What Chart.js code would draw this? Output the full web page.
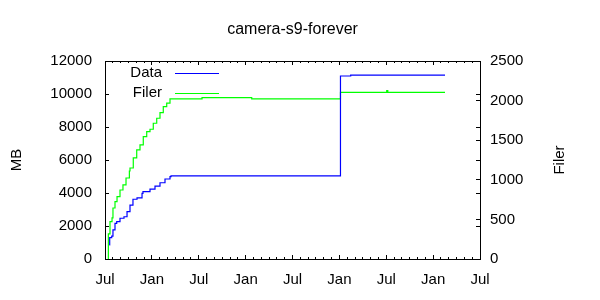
<!DOCTYPE html>
<html>
<head>
<meta charset="utf-8">
<script src="https://cdn.jsdelivr.net/npm/chart.js@4/dist/chart.umd.min.js"></script>
<style>
html, body { margin: 0; padding: 0; background: #fff; }
</style>
</head>
<body>
<canvas id="chart" width="600" height="300"></canvas>
<script>
// x values are months counted from the first Jul on the axis
var dataMonths = [0.55, 0.60, 0.86, 1.02, 1.28, 1.50, 1.92, 2.43, 2.82, 3.20,
    3.58, 4.10, 4.74, 4.86, 5.76, 6.40, 7.04, 7.68, 8.32, 8.45,
    30.14, 31.45, 43.52];
var dataMB = [850, 1300, 1390, 1760, 2160, 2260, 2470, 2560, 2870, 3270,
    3620, 3710, 3980, 4080, 4240, 4420, 4620, 4850, 4990, 5040,
    11090, 11150, 11150];

var filerMonths = [0.42, 0.43, 0.64, 0.90, 1.02, 1.28, 1.54, 1.92, 2.30, 2.69,
    3.12, 3.20, 3.62, 4.06, 4.48, 4.90, 5.34, 5.76, 6.18, 6.62,
    7.04, 7.46, 7.90, 8.32, 12.42, 18.78, 30.14, 36.06, 36.20, 43.52];
var filerCount = [0, 316, 471, 518, 644, 724, 787, 871, 935, 1023,
    1111, 1149, 1276, 1377, 1440, 1545, 1608, 1638, 1714, 1777,
    1848, 1924, 1967, 2021, 2037, 2021, 2105, 2126, 2105, 2105];

var xTickNames = ['Jul', 'Jan']; // every 6 months, starting with Jul
var xMax = 48;
var mbMax = 12000, mbStep = 2000;
var filerMax = 2500, filerStep = 500;

var FONT = '"Liberation Sans", Arial, Helvetica, sans-serif';
Chart.defaults.font.family = FONT;
Chart.defaults.font.size = 15;
Chart.defaults.color = '#000';

function toPoints(xs, ys) {
    return xs.map(function (x, i) { return {x: x, y: ys[i]}; });
}

function fixSize(prop, v) { // force axis box size
    return function (scale) { scale[prop] = v; };
}

// gnuplot style ticks: inward, no grid lines
function tickGrid(len) {
    return {drawOnChartArea: false, drawTicks: true, tickLength: -len,
        color: '#000', tickColor: '#000', lineWidth: 1};
}

// key in the upper left corner of the plot + rotated y2 title
var keyPlugin = {
    id: 'key',
    afterDatasetsDraw: function (chart) {
        var ctx = chart.ctx;
        var area = chart.chartArea;
        ctx.save();
        ctx.font = '15px ' + FONT;
        ctx.textAlign = 'right';
        ctx.textBaseline = 'middle';
        chart.data.datasets.forEach(function (ds, i) {
            var y = area.top + 12 + i * 20;
            ctx.fillStyle = '#000';
            ctx.fillText(ds.label, area.left + 57, y);
            var ly = Math.floor(y) + 0.5;
            ctx.strokeStyle = ds.borderColor;
            ctx.lineWidth = 1;
            ctx.beginPath();
            ctx.moveTo(area.left + 70, ly);
            ctx.lineTo(area.left + 114, ly);
            ctx.stroke();
        });

        var t = chart.options.scales.y2.title.text;
        ctx.translate(560, (area.top + area.bottom) / 2);
        ctx.rotate(-Math.PI / 2);
        ctx.textAlign = 'center';
        ctx.fillText(t, 0, 0);
        ctx.restore();
    }
};

var xRange = {type: 'linear', min: 0, max: xMax};

new Chart(document.getElementById('chart'), {
    type: 'line',
    data: {
        datasets: [
            {label: 'Data', data: toPoints(dataMonths, dataMB), xAxisID: 'x', yAxisID: 'y',
                borderColor: '#0000ff', borderWidth: 1.2, pointRadius: 0, stepped: 'before', fill: false},
            {label: 'Filer', data: toPoints(filerMonths, filerCount), xAxisID: 'x', yAxisID: 'y2',
                borderColor: '#00ff00', borderWidth: 1.2, pointRadius: 0, stepped: 'before', fill: false}
        ]
    },
    options: {
        responsive: false,
        animation: false,
        devicePixelRatio: 1,
        layout: {padding: 0},
        plugins: {
            legend: {display: false},
            tooltip: {enabled: false},
            title: {
                display: true,
                fullSize: false, // centred over the plot, like gnuplot
                text: 'camera-s9-forever',
                font: {size: 16, weight: 'normal'},
                color: '#000',
                padding: {top: 20.4, bottom: 21.4}
            }
        },
        scales: {
            x: Object.assign({}, xRange, {
                position: 'bottom', weight: 1,
                grid: tickGrid(4),
                border: {display: true, color: '#000', width: 1},
                ticks: {stepSize: 6, maxTicksLimit: 100, autoSkip: false, maxRotation: 0, padding: 16,
                    callback: function (v) { return xTickNames[(v / 6) % 2]; }},
                afterFit: fixSize('height', 41)
            }),
            xMinor: Object.assign({}, xRange, {
                position: 'bottom', weight: 0,
                grid: tickGrid(2), border: {display: false},
                ticks: {display: false, stepSize: 1, maxTicksLimit: 100},
                afterFit: fixSize('height', 0)
            }),
            xTop: Object.assign({}, xRange, {
                position: 'top', weight: 0,
                grid: tickGrid(4),
                border: {display: true, color: '#000', width: 1},
                ticks: {display: false, stepSize: 6, maxTicksLimit: 100},
                afterFit: fixSize('height', 0)
            }),
            xTopMinor: Object.assign({}, xRange, {
                position: 'top', weight: 0,
                grid: tickGrid(2), border: {display: false},
                ticks: {display: false, stepSize: 1, maxTicksLimit: 100},
                afterFit: fixSize('height', 0)
            }),
            y: {
                type: 'linear', position: 'left', min: 0, max: mbMax, weight: 1,
                grid: tickGrid(4),
                border: {display: true, color: '#000', width: 1},
                ticks: {stepSize: mbStep, padding: 17, callback: function (v) { return String(v); }},
                title: {display: true, text: 'MB', font: {size: 15}, padding: {top: 8, bottom: 0}},
                afterFit: fixSize('width', 105)
            },
            yMirror: {
                type: 'linear', position: 'right', min: 0, max: mbMax, weight: 0,
                grid: tickGrid(4), border: {display: false},
                ticks: {display: false, stepSize: mbStep},
                afterFit: fixSize('width', 0)
            },
            y2: {
                type: 'linear', position: 'right', min: 0, max: filerMax, weight: 1,
                grid: tickGrid(4),
                border: {display: true, color: '#000', width: 1},
                ticks: {stepSize: filerStep, padding: 14, callback: function (v) { return String(v); }},
                title: {display: false, text: 'Filer'},
                afterFit: fixSize('width', 120)
            }
        }
    },
    plugins: [keyPlugin]
});
</script>
</body>
</html>
